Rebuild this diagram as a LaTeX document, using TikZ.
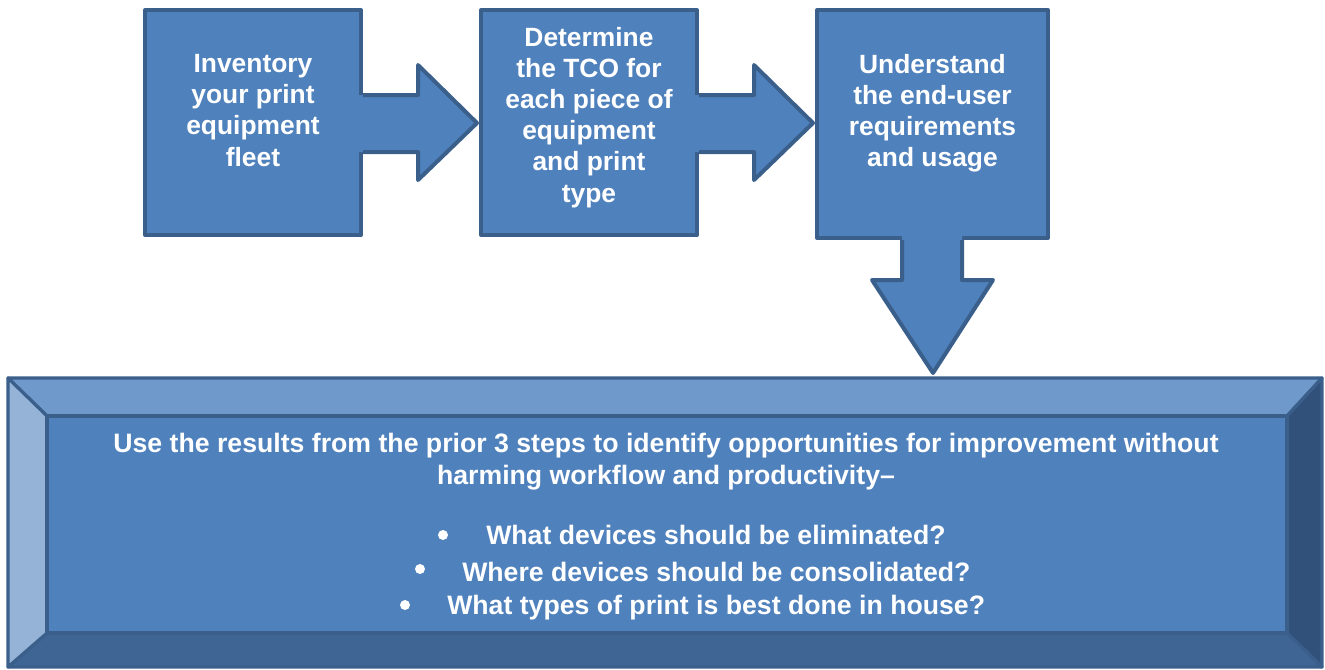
\documentclass[tikz,border=0pt]{standalone}
\usepackage{fontspec}
\setmainfont{Liberation Sans}
\definecolor{boxc}{HTML}{4F81BD}
\definecolor{bordc}{HTML}{3A5F8B}
\definecolor{bevtop}{HTML}{7099CB}
\definecolor{bevleft}{HTML}{95B3D7}
\definecolor{bevbot}{HTML}{3F6595}
\definecolor{bevright}{HTML}{31507A}
\begin{document}
\begin{tikzpicture}[x=0.75pt,y=-0.75pt,
  stepbox/.style={draw=bordc, fill=boxc, line width=3pt, line join=round, minimum width=#1, inner sep=0pt},
  steptext/.style={text=white, font=\fontsize{19.8}{23.3}\selectfont\bfseries, align=center, inner sep=0pt},
  arrowfill/.style={fill=boxc},
  arrowline/.style={draw=bordc, line width=3pt, line join=round},
  bev/.style={draw=bordc, line width=2.4pt, line join=round},
  bigtext/.style={text=white, font=\fontsize{20}{24}\selectfont\bfseries, align=center, inner sep=0pt},
  bullettext/.style={text=white, font=\fontsize{20}{24}\selectfont\bfseries, anchor=west, inner sep=0pt},
  bulletdot/.style={circle, fill=white, inner sep=0pt, minimum size=7.5pt}]
\useasboundingbox (0,0) rectangle (1325,669);

% step boxes
\node[stepbox=162pt, minimum height=168.75pt] (b1) at (253,122.5) {};
\node[stepbox=162pt, minimum height=168.75pt] (b2) at (589,122.5) {};
\node[stepbox=173.25pt, minimum height=171pt] (b3) at (932.5,124) {};

% arrows 1 and 2
\foreach \b/\dx in {b1/0, b2/336} {
  \fill[arrowfill] (355+\dx,95) -- (418+\dx,95) -- (418+\dx,65) -- (477+\dx,123) -- (418+\dx,180) -- (418+\dx,152) -- (355+\dx,152) -- cycle;
  \draw[arrowline] (\b.east |- 0,95) -- (418+\dx,95) -- (418+\dx,65) -- (477+\dx,123) -- (418+\dx,180) -- (418+\dx,152) -- (\b.east |- 0,152);
}
% down arrow
\fill[arrowfill] (902,232) -- (902,280) -- (872,280) -- (933,373) -- (993,280) -- (962,280) -- (962,232) -- cycle;
\draw[arrowline] (902,0 |- b3.south) -- (902,280) -- (872,280) -- (933,373) -- (993,280) -- (962,280) -- (962,0 |- b3.south);

% step texts
\node[steptext] (t1) at (253,110.5) {Inventory\\your print\\equipment\\fleet};
\node[steptext] (t2) at (589,117.5) {Determine\\the TCO for\\each piece of\\equipment\\and print\\type};
\node[steptext] (t3) at (932.5,113.5) {Understand\\the end-user\\requirements\\and usage};

% bevel box
\coordinate (o1) at (8,378);
\coordinate (o2) at (1322,378);
\coordinate (o3) at (1322,667);
\coordinate (o4) at (8,667);
\coordinate (i1) at (47,416);
\coordinate (i2) at (1287,416);
\coordinate (i3) at (1287,633);
\coordinate (i4) at (47,633);
\filldraw[bev, fill=bevtop] (o1) -- (o2) -- (i2) -- (i1) -- cycle;
\filldraw[bev, fill=bevright] (o2) -- (o3) -- (i3) -- (i2) -- cycle;
\filldraw[bev, fill=bevbot] (o3) -- (o4) -- (i4) -- (i3) -- cycle;
\filldraw[bev, fill=bevleft] (o4) -- (o1) -- (i1) -- (i4) -- cycle;
\filldraw[bev, fill=boxc] (i1) -- (i2) -- (i3) -- (i4) -- cycle;

\node[bigtext] (main) at (666,461.5) {Use the results from the prior 3 steps to identify opportunities for improvement without\\harming workflow and productivity--};
\node[bullettext] (l1) at (486,535) {What devices should be eliminated?};
\node[bullettext] (l2) at (462,571.5) {Where devices should be consolidated?};
\node[bullettext] (l3) at (447,607.5) {What types of print is best done in house?};
\node[bulletdot] (d1) at (443,535) {};
\node[bulletdot] (d2) at (420,569) {};
\node[bulletdot] (d3) at (405,605) {};
\end{tikzpicture}
\end{document}
